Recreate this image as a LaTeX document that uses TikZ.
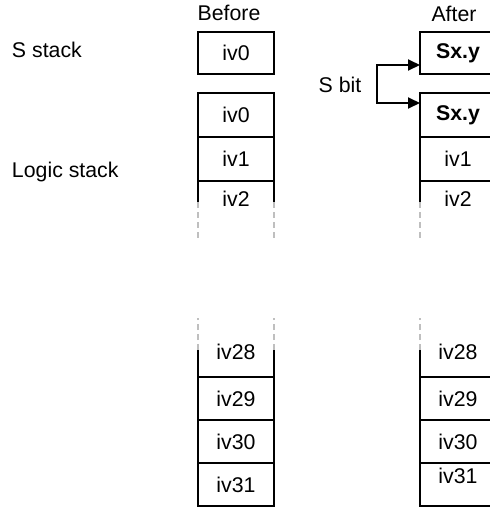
\documentclass[tikz,border=0pt]{standalone}
\usepackage{fontspec}
\setmainfont{Liberation Sans}
\usetikzlibrary{positioning,arrows.meta,calc}

\begin{document}
\begin{tikzpicture}[x=1pt, y=-1pt,
  every node/.style={font=\fontsize{21.3}{25}\selectfont, inner sep=0pt, outer sep=0pt},
  cell/.style={draw, line width=1.9pt, minimum width=76pt, minimum height=43pt},
  side/.style={line width=1.9pt},
  fade/.style={line width=1.9pt, draw=black!25, dash pattern=on 6pt off 4pt},
  arr/.style={line width=1.9pt, -{Triangle[length=12pt, width=11pt]}}
]
\useasboundingbox (0,0) rectangle (490,507);
\clip (0,0) rectangle (490,507);
% Labels
\node[anchor=base west] (sstack) at (12,57) {S stack};
\node[anchor=base west] (lstack) at (12,177) {Logic stack};
\node[anchor=base] (before) at (229,20) {Before};
\node[anchor=base] (after) at (454,21) {After};
\node[anchor=base] (sbitlbl) at (340,92) {S bit};
% Before column
\node[cell, minimum height=42pt] (bS) at (236,53) {iv0};
\node[cell, minimum height=44pt] (b0) at (236,115) {iv0};
\node[cell, minimum height=44pt, below=0pt of b0] (b1) {iv1};
\node (b2) at (236,199) {iv2};
\draw[side] (b1.south west) -- ++(0,21) coordinate (b2l);
\draw[side] (b1.south east) -- ++(0,21) coordinate (b2r);
\draw[fade] (b2l) -- ++(0,36);
\draw[fade] (b2r) -- ++(0,36);
\node[cell] (b31) at (236,484.5) {iv31};
\node[cell, above=0pt of b31] (b30) {iv30};
\node[cell, above=0pt of b30] (b29) {iv29};
\node (b28) at (236,352) {iv28};
\draw[side] (b29.north west) -- ++(0,-27) coordinate (b28l);
\draw[side] (b29.north east) -- ++(0,-27) coordinate (b28r);
\draw[fade] (b28l) -- ++(0,-32);
\draw[fade] (b28r) -- ++(0,-32);
% After column
\node[cell, minimum height=42pt] (aS) at (458,53) {\bfseries Sx.y};
\node[cell, minimum height=44pt] (a0) at (458,115) {\bfseries Sx.y};
\node[cell, minimum height=44pt, below=0pt of a0] (a1) {iv1};
\node (a2) at (458,199) {iv2};
\draw[side] (a1.south west) -- ++(0,21) coordinate (a2l);
\draw[fade] (a2l) -- ++(0,36);
\node[cell] (a31) at (458,484.5) {\raisebox{18pt}{iv31}};
\node[cell, above=0pt of a31] (a30) {iv30};
\node[cell, above=0pt of a30] (a29) {iv29};
\node (a28) at (458,352) {iv28};
\draw[side] (a29.north west) -- ++(0,-27) coordinate (a28l);
\draw[fade] (a28l) -- ++(0,-32);
% S bit copied into both stacks
\coordinate (sbit) at (377,84);
\draw[arr] (sbit) |- ([yshift=-12pt]aS.west);
\draw[arr] (sbit) |- ([yshift=12pt]a0.west);
\end{tikzpicture}
\end{document}
